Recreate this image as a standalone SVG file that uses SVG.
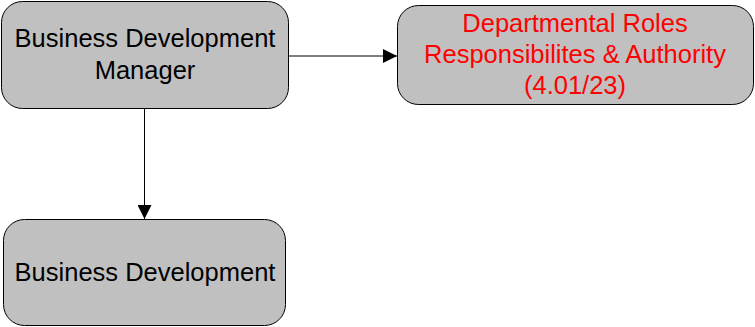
<svg xmlns="http://www.w3.org/2000/svg" width="755" height="327" viewBox="0 0 755 327">
<defs>
<marker id="arr" markerWidth="14" markerHeight="14" refX="14" refY="7" orient="auto" markerUnits="userSpaceOnUse">
<path d="M0,0 L14,7 L0,14 Z" fill="#000"/>
</marker>
<style>
.box{fill:#c0c0c0;stroke:#000;stroke-width:1}
.t{font-family:"Liberation Sans",Arial,sans-serif;font-size:25.5px;text-anchor:middle;fill:#000}
.r{fill:#ff0000}
.c{stroke:#000;stroke-width:1;fill:none}
</style>
</defs>
<g id="connectors">
<path class="c" d="M289,56 H397" marker-end="url(#arr)"/>
<path class="c" d="M144.5,109 V219" marker-end="url(#arr)"/>
</g>
<g id="n1">
<rect class="box" x="1.5" y="1.5" width="287" height="107" rx="21"/>
<text class="t" x="145" y="47">Business Development</text>
<text class="t" x="145" y="79">Manager</text>
</g>
<g id="n2">
<rect class="box" x="397.5" y="5.5" width="356" height="99" rx="21"/>
<text class="t r" x="575" y="32">Departmental Roles</text>
<text class="t r" x="575" y="63">Responsibilites &amp; Authority</text>
<text class="t r" x="575" y="94">(4.01/23)</text>
</g>
<g id="n3">
<rect class="box" x="3.5" y="219.5" width="282" height="106" rx="21"/>
<text class="t" x="145" y="281">Business Development</text>
</g>
</svg>
